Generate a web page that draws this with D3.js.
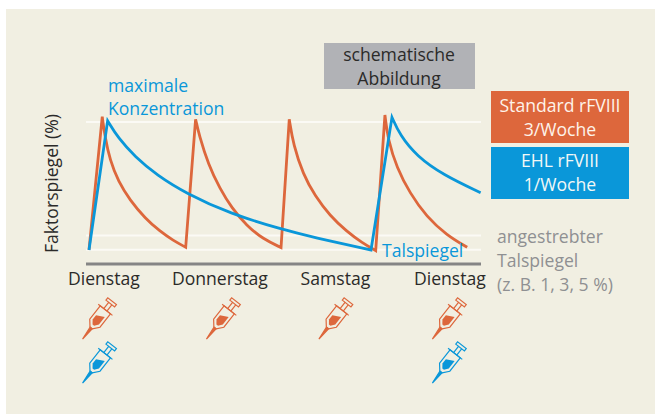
<!DOCTYPE html>
<html>
<head>
<meta charset="utf-8">
<script src="https://cdn.jsdelivr.net/npm/d3@7"></script>
<style>
  html, body { margin: 0; padding: 0; background: #fff; }
  svg { display: block; }
  text { font-family: "Open Sans", "Noto Sans", sans-serif; }
</style>
</head>
<body>
<div id="outer"></div>
<script>
////////// Data (hours since first dose, factor level as % of peak line) //////////
const dayLabels = ['Dienstag', 'Donnerstag', 'Samstag', 'Dienstag'];
const dayHours = [8.6, 77.7, 146.5, 214.7];
const standardDoseHours = [5.7, 79.5, 146.5, 214.1];
const ehlDoseHours = [5.7, 214.1];
const guideLevels = [100, 20, 10];

const startLevel = [0, 9.9];
const standardDecays = [
  [[7.9, 103.7], [9.5, 89.6], [12.5, 73], [17.5, 58], [24.4, 45], [33.4, 32.2], [42.3, 23], [50.2, 16.5], [57.6, 11.8]],
  [[63.5, 101.9], [65.6, 90.8], [71.1, 70], [78, 53], [85, 39.5], [93.9, 27], [103.8, 17.5], [114.4, 11.6]],
  [[119.3, 101.9], [121.7, 84], [127.6, 63], [134.6, 48], [143.5, 34], [153.5, 23], [162.6, 15], [170.8, 9.4]],
  [[176.3, 104.9], [178.2, 87.3], [183.3, 68], [191.2, 49.8], [201.1, 33.3], [213, 20.4], [225.3, 11.8]]
];
const ehlDecays = [
  [[11.1, 100.9], [17.5, 88.5], [27.4, 75.6], [40.3, 62.7], [58.2, 49.5], [84, 35.5], [114.4, 24.5], [133.6, 18.8], [168, 9.9]],
  [[180.5, 103.3], [185.2, 90.8], [195.2, 76], [211, 62.7], [233.3, 50.2]]
];

const legendLabels = [['Standard rFVIII', '3/Woche'], ['EHL rFVIII', '1/Woche']];
const noteLabels = ['schematische', 'Abbildung'];
const targetLabels = ['angestrebter', 'Talspiegel', '(z. B. 1, 3, 5 %)'];

////////// Layout & colours //////////
const width = 655, height = 414;
const fontSize = 17.6;
const colors = {
  panel: '#f1efe2', orange: '#dd673c', blue: '#0a97d9', guide: '#fbfaf5',
  axis: '#858585', note: '#b1b2b6', ink: '#2b2a29', muted: '#8f9092'
};

const svg = d3.select('#outer').append('svg')
  .attr('width', width)
  .attr('height', height);

svg.append('rect')
  .attr('x', 6).attr('y', 9)
  .attr('width', width - 6).attr('height', height - 9)
  .attr('fill', colors.panel);

const x = d3.scaleLinear().domain([0, 168]).range([89, 371]);
const y = d3.scaleLinear().domain([0, 100]).range([264, 122]);

////////// Guide lines //////////
svg.append('g').selectAll('line')
  .data(guideLevels)
  .join('line')
  .attr('x1', 86).attr('x2', 481)
  .attr('y1', d => y(d)).attr('y2', d => y(d))
  .attr('stroke', colors.guide)
  .attr('stroke-width', 2);

////////// X axis //////////
const axis = d3.axisBottom(x)
  .tickValues(dayHours)
  .tickSize(0)
  .tickPadding(9)
  .tickFormat((d, i) => dayLabels[i]);

const axisG = svg.append('g')
  .attr('transform', `translate(0,${y(0)})`)
  .call(axis);
axisG.select('.domain').remove();
axisG.selectAll('text')
  .attr('font-size', fontSize)
  .attr('fill', colors.ink)
  .style('font-family', '"Open Sans", sans-serif');

svg.append('line')
  .attr('x1', 86).attr('x2', 481)
  .attr('y1', y(0)).attr('y2', y(0))
  .attr('stroke', colors.axis)
  .attr('stroke-width', 3);

////////// Curves: straight rise to each peak, smooth decay after it //////////
const decayLine = d3.line()
  .x(d => x(d[0]))
  .y(d => y(d[1]))
  .curve(d3.curveBasis);

const sawtooth = decays => {
  let path = `M${x(startLevel[0])},${y(startLevel[1])}`;
  decays.forEach(decay => { path += 'L' + decayLine(decay).slice(1); });
  return path;
};

const curves = [
  { decays: standardDecays, color: colors.orange },
  { decays: ehlDecays, color: colors.blue }
];
svg.append('g').selectAll('path')
  .data(curves)
  .join('path')
  .attr('d', d => sawtooth(d.decays))
  .attr('fill', 'none')
  .attr('stroke', d => d.color)
  .attr('stroke-width', 2.8)
  .attr('stroke-linejoin', 'miter')
  .attr('stroke-miterlimit', 6);

////////// Syringes //////////
const drawSyringe = (hour, cy, color) => {
  const g = svg.append('g')
    .attr('transform', `translate(${x(hour)},${cy}) rotate(38)`)
    .attr('fill', 'none')
    .attr('stroke', color)
    .attr('stroke-width', 1.2);
  // barrel with tapered nose
  g.append('path').attr('d', 'M-6.5,-11V6L-1.5,12H1.5L6.5,6V-11Z');
  // flange
  g.append('path').attr('d', 'M-9,-11H9');
  // plunger
  g.append('path').attr('d', 'M-2,-11V-19H2V-11M-5.5,-19H5.5V-22H-5.5Z');
  // needle
  g.append('path').attr('d', 'M-1.3,12L0,26L1.3,12Z').attr('fill', color);
  // contents
  g.append('path')
    .attr('d', 'M-4,-1L4,-5V4.5L1,8.5H-1L-4,4.5Z')
    .attr('fill', color)
    .attr('stroke', 'none');
};
standardDoseHours.forEach(h => drawSyringe(h, 318.5, colors.orange));
ehlDoseHours.forEach(h => drawSyringe(h, 362.5, colors.blue));

////////// Note & legend boxes //////////
const addBox = (bx, by, bw, bh, fill) => svg.append('rect')
  .attr('x', bx).attr('y', by).attr('width', bw).attr('height', bh).attr('fill', fill);

const addText = (str, tx, ty, color, anchor) => svg.append('text')
  .attr('x', tx).attr('y', ty)
  .attr('text-anchor', anchor || 'start')
  .attr('font-size', fontSize)
  .attr('fill', color)
  .text(str);

addBox(324, 43, 151, 46, colors.note);
addText(noteLabels[0], 399, 61, colors.ink, 'middle');
addText(noteLabels[1], 399, 85, colors.ink, 'middle');

addBox(491, 91, 138, 52, colors.orange);
addText(legendLabels[0][0], 560, 112, '#fdf3ea', 'middle');
addText(legendLabels[0][1], 560, 136, '#fdf3ea', 'middle');

addBox(491, 147, 138, 52, colors.blue);
addText(legendLabels[1][0], 560, 167, '#f2f8f6', 'middle');
addText(legendLabels[1][1], 560, 191, '#f2f8f6', 'middle');

////////// Annotations //////////
addText('maximale', 108, 92, colors.blue);
addText('Konzentration', 108, 115, colors.blue);
addText('Talspiegel', 382, 257, colors.blue);

targetLabels.forEach((label, i) => addText(label, 497, 243 + i * 24, colors.muted));

svg.append('text')
  .attr('transform', 'translate(58,253) rotate(-90)')
  .attr('font-size', fontSize)
  .attr('fill', colors.ink)
  .text('Faktorspiegel (%)');
</script>
</body>
</html>
